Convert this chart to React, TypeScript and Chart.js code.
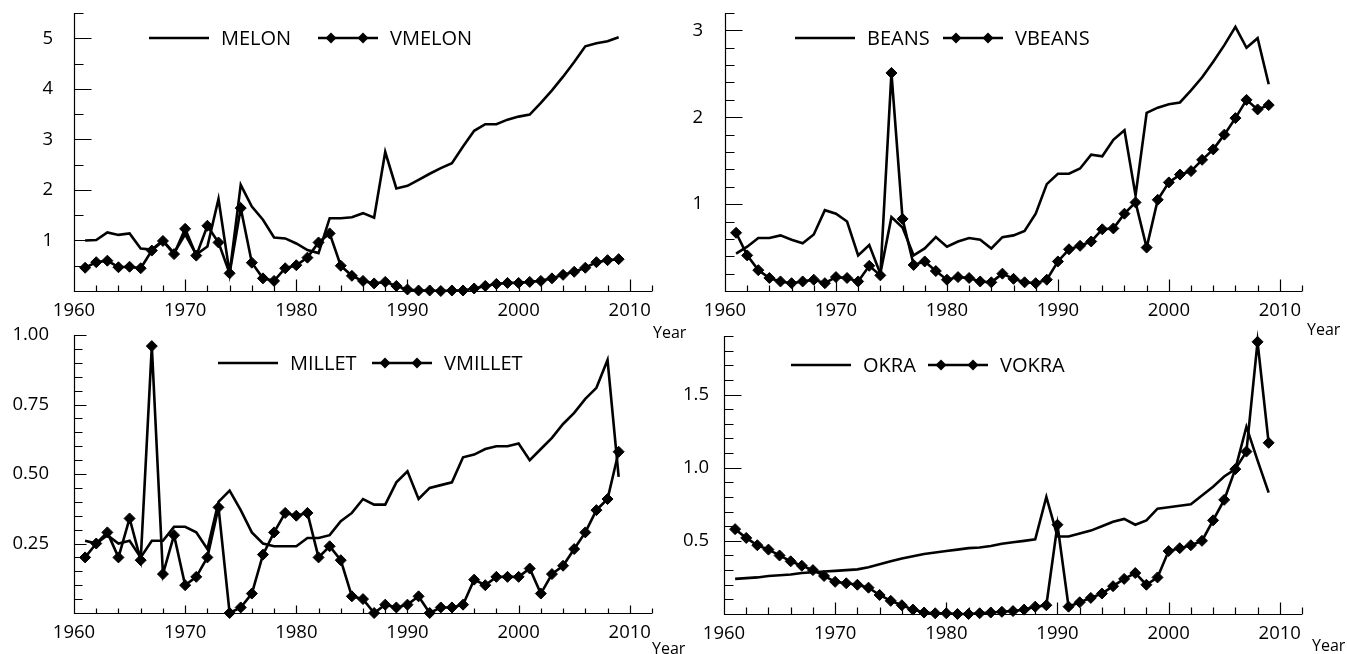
import React, { useEffect, useRef } from "react";
import { Chart, registerables } from "chart.js";

Chart.register(...registerables);

// ---------------- DATA ----------------
const years = [
  1961, 1962, 1963, 1964, 1965, 1966, 1967, 1968, 1969, 1970,
  1971, 1972, 1973, 1974, 1975, 1976, 1977, 1978, 1979, 1980,
  1981, 1982, 1983, 1984, 1985, 1986, 1987, 1988, 1989, 1990,
  1991, 1992, 1993, 1994, 1995, 1996, 1997, 1998, 1999, 2000,
  2001, 2002, 2003, 2004, 2005, 2006, 2007, 2008, 2009,
];

const xTickLabels = [1960, 1970, 1980, 1990, 2000, 2010];

const melon = [
  1.0, 1.01, 1.16, 1.11, 1.14, 0.84, 0.82, 1.0, 0.75, 1.12,
  0.72, 0.88, 1.82, 0.35, 2.1, 1.67, 1.41, 1.06, 1.04, 0.94,
  0.81, 0.75, 1.44, 1.44, 1.46, 1.54, 1.45, 2.75, 2.03, 2.08,
  2.2, 2.32, 2.43, 2.53, 2.86, 3.17, 3.3, 3.3, 3.39, 3.45,
  3.49, 3.72, 3.97, 4.24, 4.53, 4.84, 4.9, 4.94, 5.02,
];
const vmelon = [
  0.46, 0.57, 0.6, 0.47, 0.48, 0.45, 0.8, 0.99, 0.73, 1.23,
  0.7, 1.29, 0.96, 0.35, 1.64, 0.56, 0.25, 0.2, 0.45, 0.51,
  0.66, 0.96, 1.14, 0.5, 0.3, 0.2, 0.15, 0.18, 0.1, 0.03,
  0.01, 0.01, 0.0, 0.01, 0.01, 0.05, 0.1, 0.14, 0.16, 0.16,
  0.18, 0.2, 0.25, 0.32, 0.38, 0.46, 0.57, 0.61, 0.63,
];
const beans = [
  0.43, 0.51, 0.61, 0.61, 0.64, 0.59, 0.55, 0.65, 0.93, 0.89,
  0.8, 0.41, 0.53, 0.2, 0.85, 0.73, 0.41, 0.49, 0.62, 0.51,
  0.57, 0.61, 0.59, 0.49, 0.62, 0.64, 0.69, 0.89, 1.23, 1.35,
  1.35, 1.41, 1.57, 1.55, 1.74, 1.85, 1.1, 2.05, 2.11, 2.15,
  2.17, 2.31, 2.46, 2.64, 2.83, 3.04, 2.8, 2.91, 2.38,
];
const vbeans = [
  0.67, 0.41, 0.24, 0.15, 0.11, 0.09, 0.11, 0.13, 0.09, 0.16,
  0.15, 0.11, 0.29, 0.18, 2.51, 0.83, 0.3, 0.34, 0.23, 0.13,
  0.16, 0.15, 0.11, 0.1, 0.2, 0.14, 0.1, 0.09, 0.13, 0.34,
  0.48, 0.52, 0.57, 0.71, 0.72, 0.89, 1.02, 0.5, 1.05, 1.25,
  1.34, 1.38, 1.51, 1.63, 1.8, 1.99, 2.2, 2.09, 2.14,
];
const millet = [
  0.26, 0.25, 0.28, 0.25, 0.26, 0.2, 0.26, 0.26, 0.31, 0.31,
  0.29, 0.23, 0.4, 0.44, 0.37, 0.29, 0.25, 0.24, 0.24, 0.24,
  0.27, 0.27, 0.28, 0.33, 0.36, 0.41, 0.39, 0.39, 0.47, 0.51,
  0.41, 0.45, 0.46, 0.47, 0.56, 0.57, 0.59, 0.6, 0.6, 0.61,
  0.55, 0.59, 0.63, 0.68, 0.72, 0.77, 0.81, 0.91, 0.49,
];
const vmillet = [
  0.2, 0.25, 0.29, 0.2, 0.34, 0.19, 0.96, 0.14, 0.28, 0.1,
  0.13, 0.2, 0.38, 0.0, 0.02, 0.07, 0.21, 0.29, 0.36, 0.35,
  0.36, 0.2, 0.24, 0.19, 0.06, 0.05, 0.0, 0.03, 0.02, 0.03,
  0.06, 0.0, 0.02, 0.02, 0.03, 0.12, 0.1, 0.13, 0.13, 0.13,
  0.16, 0.07, 0.14, 0.17, 0.23, 0.29, 0.37, 0.41, 0.58,
];
const okra = [
  0.24, 0.245, 0.25, 0.26, 0.265, 0.27, 0.28, 0.285, 0.29, 0.295,
  0.3, 0.305, 0.32, 0.34, 0.36, 0.38, 0.395, 0.41, 0.42, 0.43,
  0.44, 0.45, 0.455, 0.465, 0.48, 0.49, 0.5, 0.51, 0.8, 0.53,
  0.53, 0.55, 0.57, 0.6, 0.63, 0.65, 0.61, 0.64, 0.72, 0.73,
  0.74, 0.75, 0.81, 0.87, 0.94, 0.99, 1.28, 1.05, 0.83,
];
const vokra = [
  0.58, 0.52, 0.47, 0.44, 0.4, 0.36, 0.33, 0.3, 0.26, 0.22,
  0.21, 0.2, 0.18, 0.13, 0.09, 0.06, 0.03, 0.01, 0.005, 0.005,
  0.0, 0.0, 0.005, 0.01, 0.015, 0.02, 0.03, 0.05, 0.06, 0.61,
  0.05, 0.08, 0.11, 0.14, 0.19, 0.24, 0.28, 0.2, 0.25, 0.43,
  0.45, 0.47, 0.5, 0.64, 0.78, 0.99, 1.11, 1.86, 1.17,
];

const melonTicks = [1, 2, 3, 4, 5];
const beansTicks = [1, 2, 3];
const milletTicks = [0.25, 0.5, 0.75, 1.0];
const okraTicks = [0.5, 1.0, 1.5];

// ---------------- LAYOUT / STYLE ----------------
const FONT = "'Open Sans', 'Noto Sans', sans-serif";
const LINE_W = 2.6;

type PanelCfg = {
  names: [string, string];
  line: number[];
  marker: number[];
  yTicks: number[];
  yMax: number;
  yMajorStep: number;
  yMinorStep: number;
  decimals: number;
  box: { x: number; y: number; w: number; h: number };
  area: { l: number; t: number; r: number; b: number };
  yLabelPad: number;
  yTickLen: [number, number];
  xTickLen: [number, number];
  legend: { x1: number; x2: number; y: number };
};

const panels: PanelCfg[] = [
  {
    names: ["MELON", "VMELON"], line: melon, marker: vmelon, yTicks: melonTicks,
    yMax: 5.5, yMajorStep: 1, yMinorStep: 0.5, decimals: 0,
    box: { x: 0, y: 0, w: 670, h: 320 }, area: { l: 74, t: 13, r: 652, b: 291 },
    yLabelPad: 21, yTickLen: [17, 9], xTickLen: [12, 6],
    legend: { x1: 149, x2: 318, y: 38 },
  },
  {
    names: ["BEANS", "VBEANS"], line: beans, marker: vbeans, yTicks: beansTicks,
    yMax: 3.2, yMajorStep: 1, yMinorStep: 0.2, decimals: 0,
    box: { x: 670, y: 0, w: 677, h: 320 }, area: { l: 55, t: 13, r: 632, b: 291 },
    yLabelPad: 22, yTickLen: [17, 9], xTickLen: [12, 6],
    legend: { x1: 125, x2: 273, y: 38 },
  },
  {
    names: ["MILLET", "VMILLET"], line: millet, marker: vmillet, yTicks: milletTicks,
    yMax: 1.0, yMajorStep: 0.25, yMinorStep: 0.05, decimals: 2,
    box: { x: 0, y: 320, w: 670, h: 334 }, area: { l: 74, t: 15, r: 652, b: 293 },
    yLabelPad: 25, yTickLen: [12, 8], xTickLen: [8, 5],
    legend: { x1: 218, x2: 372, y: 43 },
  },
  {
    names: ["OKRA", "VOKRA"], line: okra, marker: vokra, yTicks: okraTicks,
    yMax: 1.9, yMajorStep: 0.5, yMinorStep: 0.1, decimals: 1,
    box: { x: 670, y: 320, w: 677, h: 334 }, area: { l: 54, t: 16, r: 632, b: 294 },
    yLabelPad: 15, yTickLen: [17, 9], xTickLen: [12, 7],
    legend: { x1: 121, x2: 258, y: 45 },
  },
];

const yearLabels = [
  { x: 653, y: 324 },
  { x: 1307, y: 321 },
  { x: 652, y: 640 },
  { x: 1312, y: 637 },
];

// ---------------- PLUGINS ----------------
const axesPlugin = {
  id: "axesTicks",
  beforeDatasetsDraw(chart: any, _args: any, opts: any) {
    const { ctx, chartArea: a, scales } = chart;
    const xs = scales.x;
    const ys = scales.y;
    ctx.save();
    ctx.strokeStyle = "#000";
    ctx.lineWidth = 1.2;
    const L = Math.round(a.left) + 0.5;
    const B = Math.round(a.bottom) + 0.5;
    ctx.beginPath();
    ctx.moveTo(L, Math.round(a.top));
    ctx.lineTo(L, B);
    ctx.lineTo(Math.round(a.right), B);
    const nx = Math.round((opts.xMax - opts.xMin) / opts.xMinor);
    for (let i = 1; i <= nx; i++) {
      const v = opts.xMin + i * opts.xMinor;
      const px = Math.round(xs.getPixelForValue(v)) + 0.5;
      const major = v % opts.xMajor === 0;
      const len = major ? opts.xTickLen[0] : opts.xTickLen[1];
      ctx.moveTo(px, B);
      ctx.lineTo(px, B - len);
    }
    const ny = Math.round(opts.yMax / opts.yMinor);
    for (let i = 1; i <= ny; i++) {
      const v = i * opts.yMinor;
      const r = v / opts.yMajor;
      const major = Math.abs(r - Math.round(r)) < 1e-6;
      const py = Math.round(ys.getPixelForValue(v)) + 0.5;
      const len = major ? opts.yTickLen[0] : opts.yTickLen[1];
      ctx.moveTo(L, py);
      ctx.lineTo(L + len, py);
    }
    ctx.stroke();
    ctx.restore();
  },
};

function diamond(ctx: CanvasRenderingContext2D, x: number, y: number, r: number) {
  ctx.beginPath();
  ctx.moveTo(x - r, y);
  ctx.lineTo(x, y - r);
  ctx.lineTo(x + r, y);
  ctx.lineTo(x, y + r);
  ctx.closePath();
  ctx.fill();
}

const legendPlugin = {
  id: "customLegend",
  afterDraw(chart: any, _args: any, opts: any) {
    const ctx: CanvasRenderingContext2D = chart.ctx;
    ctx.save();
    ctx.font = `20px ${FONT}`;
    ctx.textBaseline = "middle";
    ctx.textAlign = "left";
    ctx.fillStyle = "#000";
    ctx.strokeStyle = "#000";
    chart.data.datasets.forEach((ds: any, i: number) => {
      const x0 = i === 0 ? opts.x1 : opts.x2;
      const y = opts.y;
      ctx.lineWidth = LINE_W;
      ctx.beginPath();
      ctx.moveTo(x0, y);
      ctx.lineTo(x0 + 60, y);
      ctx.stroke();
      if (ds.pointRadius > 0) {
        diamond(ctx, x0 + 13, y, 5.5);
        diamond(ctx, x0 + 45, y, 5.5);
      }
      ctx.fillText(ds.label, x0 + 72, y + 1);
    });
    ctx.restore();
  },
};

// ---------------- CHART ----------------
function buildConfig(cfg: PanelCfg): any {
  const tickFont = { family: FONT, size: 18.5 };
  return {
    type: "line",
    data: {
      datasets: [
        {
          label: cfg.names[0],
          data: years.map((x, i) => ({ x, y: cfg.line[i] })),
          borderColor: "#000",
          borderWidth: LINE_W,
          pointRadius: 0,
          tension: 0,
          fill: false,
          clip: false,
        },
        {
          label: cfg.names[1],
          data: years.map((x, i) => ({ x, y: cfg.marker[i] })),
          borderColor: "#000",
          backgroundColor: "#000",
          borderWidth: LINE_W,
          pointStyle: "rectRot",
          pointRadius: 5.5,
          pointBackgroundColor: "#000",
          pointBorderColor: "#000",
          pointBorderWidth: 1,
          tension: 0,
          fill: false,
          clip: false,
        },
      ],
    },
    options: {
      responsive: false,
      animation: false,
      devicePixelRatio: 1,
      events: [],
      layout: {
        padding: { left: 0, top: cfg.area.t, right: cfg.box.w - cfg.area.r, bottom: 0 },
      },
      plugins: {
        legend: { display: false },
        tooltip: { enabled: false },
        axesTicks: {
          xMin: 1960, xMax: 2012, xMinor: 2, xMajor: 10,
          yMax: cfg.yMax, yMinor: cfg.yMinorStep, yMajor: cfg.yMajorStep,
          xTickLen: cfg.xTickLen, yTickLen: cfg.yTickLen,
        },
        customLegend: cfg.legend,
      },
      scales: {
        x: {
          type: "linear",
          min: 1960,
          max: 2012,
          grid: { display: false, drawTicks: false },
          border: { display: false },
          afterBuildTicks: (s: any) => {
            s.ticks = xTickLabels.map((v) => ({ value: v }));
          },
          afterFit: (s: any) => {
            s.height = cfg.box.h - cfg.area.b;
            s.paddingLeft = 0;
            s.paddingRight = 0;
          },
          ticks: {
            font: tickFont,
            color: "#000",
            padding: 9,
            maxRotation: 0,
            autoSkip: false,
            callback: (v: any) => String(v),
          },
        },
        y: {
          type: "linear",
          min: 0,
          max: cfg.yMax,
          grid: { display: false, drawTicks: false },
          border: { display: false },
          afterBuildTicks: (s: any) => {
            s.ticks = cfg.yTicks.map((v) => ({ value: v }));
          },
          afterFit: (s: any) => {
            s.width = cfg.area.l;
            s.paddingTop = 0;
            s.paddingBottom = 0;
          },
          ticks: {
            font: tickFont,
            color: "#000",
            padding: cfg.yLabelPad,
            autoSkip: false,
            callback: (v: any) => Number(v).toFixed(cfg.decimals),
          },
        },
      },
    },
    plugins: [axesPlugin, legendPlugin],
  };
}

function Panel({ cfg }: { cfg: PanelCfg }) {
  const ref = useRef<HTMLCanvasElement>(null);
  useEffect(() => {
    if (!ref.current) return;
    const chart = new Chart(ref.current, buildConfig(cfg));
    return () => chart.destroy();
  }, [cfg]);
  return (
    <canvas
      ref={ref}
      width={cfg.box.w}
      height={cfg.box.h}
      style={{
        position: "absolute",
        left: cfg.box.x,
        top: cfg.box.y,
        width: cfg.box.w,
        height: cfg.box.h,
      }}
    />
  );
}

export default function App() {
  return (
    <div
      style={{
        position: "absolute",
        left: 0,
        top: 0,
        width: 1347,
        height: 654,
        background: "#fff",
        overflow: "hidden",
      }}
    >
      {panels.map((p, i) => (
        <Panel key={i} cfg={p} />
      ))}
      {yearLabels.map((p, i) => (
        <div
          key={"y" + i}
          style={{
            position: "absolute",
            left: p.x,
            top: p.y,
            fontFamily: FONT,
            fontSize: 16,
            lineHeight: "16px",
            color: "#000",
            whiteSpace: "nowrap",
          }}
        >
          Year
        </div>
      ))}
    </div>
  );
}
